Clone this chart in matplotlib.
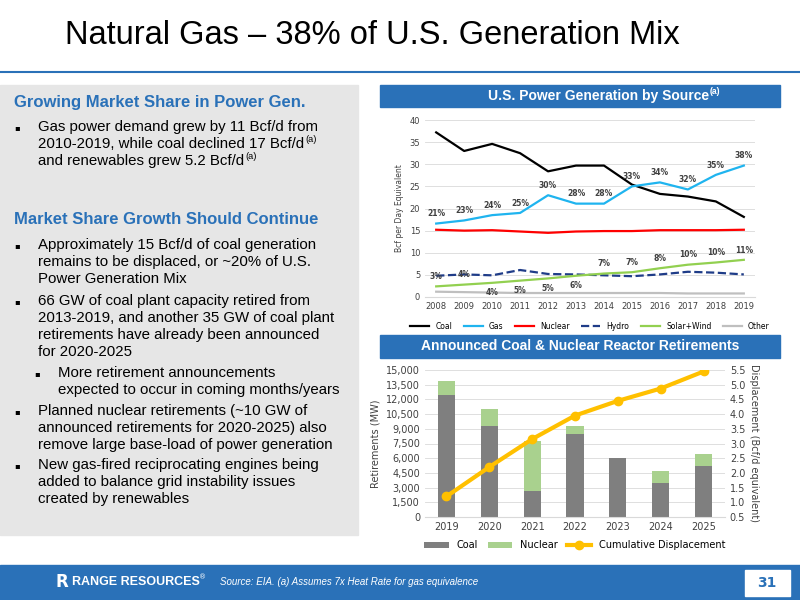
import numpy as np
import matplotlib.pyplot as plt
from matplotlib.patches import Rectangle
from matplotlib.lines import Line2D

years = [2008, 2009, 2010, 2011, 2012, 2013, 2014, 2015, 2016, 2017, 2018, 2019]
coal = [37.2, 33.0, 34.6, 32.5, 28.4, 29.7, 29.7, 25.4, 23.3, 22.7, 21.6, 18.1]
gas = [16.6, 17.3, 18.5, 19.0, 23.0, 21.1, 21.1, 25.0, 25.9, 24.3, 27.6, 29.7]
nuclear = [15.2, 15.0, 15.1, 14.8, 14.5, 14.8, 14.9, 14.9, 15.1, 15.1, 15.1, 15.2]
hydro = [4.8, 5.1, 4.9, 6.1, 5.2, 5.1, 4.9, 4.7, 5.1, 5.7, 5.5, 5.1]
solar_wind = [2.4, 2.8, 3.2, 3.7, 4.2, 4.8, 5.3, 5.6, 6.5, 7.3, 7.8, 8.4]
other = [1.2, 1.1, 1.0, 0.9, 0.9, 0.9, 0.9, 0.9, 0.9, 0.8, 0.8, 0.8]
gas_pct = [21, 23, 24, 25, 30, 28, 28, 33, 34, 32, 35, 38]
ren_pct = [3, 4, 4, 5, 5, 6, 7, 7, 8, 10, 10, 11]
ren_above = [True, True, False, False, False, False, True, True, True, True, True, True]

ret_years = ['2019', '2020', '2021', '2022', '2023', '2024', '2025']
ret_coal = [12500, 9300, 2700, 8500, 6000, 3500, 5250]
ret_nuclear = [1400, 1700, 5100, 800, 0, 1200, 1150]
cum_disp = [1.2, 2.2, 3.15, 3.95, 4.45, 4.87, 5.45]

W, H = 800, 600
blue = '#2a71b8'
fig = plt.figure(figsize=(8, 6), dpi=100)
renderer = fig.canvas.get_renderer()

def fx(x): return x / W
def fy(y): return 1 - y / H

def rect(x0, y0, x1, y1, color):
    fig.patches.append(Rectangle((fx(x0), fy(y1)), fx(x1 - x0), (y1 - y0) / H,
                                 transform=fig.transFigure, color=color, zorder=0))

def with_sup(x, y, txt, sup, size, **kw):
    # line of text followed by a small raised superscript
    t = fig.text(fx(x), fy(y), txt, fontsize=size, va='baseline', family='Liberation Sans', **kw)
    bb = t.get_window_extent(renderer)
    fig.text(bb.x1 / W + 0.001, fy(y - size * 0.55), sup, fontsize=size * 0.62,
             va='baseline', family='Liberation Sans', **kw)

# title
fig.text(fx(65), fy(36), 'Natural Gas \u2013 38% of U.S. Generation Mix', fontsize=23.5,
         va='center', family='Liberation Sans')
fig.add_artist(Line2D([fx(0), fx(800)], [fy(72), fy(72)], color=blue, lw=1.5,
                      transform=fig.transFigure))

# left panel
rect(0, 85, 358, 535, '#e6e6e6')
step = 17
bullets = [
    (38, 126, ['Gas power demand grew by 11 Bcf/d from',
               ('2010-2019, while coal declined 17 Bcf/d', '(a)'),
               ('and renewables grew 5.2 Bcf/d', '(a)')]),
    (38, 244, ['Approximately 15 Bcf/d of coal generation',
               'remains to be displaced, or ~20% of U.S.',
               'Power Generation Mix']),
    (38, 300, ['66 GW of coal plant capacity retired from',
               '2013-2019, and another 35 GW of coal plant',
               'retirements have already been announced',
               'for 2020-2025']),
    (58, 372, ['More retirement announcements',
               'expected to occur in coming months/years']),
    (38, 410, ['Planned nuclear retirements (~10 GW of',
               'announced retirements for 2020-2025) also',
               'remove large base-load of power generation']),
    (38, 464, ['New gas-fired reciprocating engines being',
               'added to balance grid instability issues',
               'created by renewables']),
]
for x, y, lines in bullets:
    fig.text(fx(x - 24), fy(y + 2), '\u25aa', fontsize=6, va='center', family='DejaVu Sans')
    for i, ln in enumerate(lines):
        yb = y + 5 + i * step
        if isinstance(ln, tuple):
            with_sup(x, yb, ln[0], ln[1], 10.8)
        else:
            fig.text(fx(x), fy(yb), ln, fontsize=10.8, va='baseline', family='Liberation Sans')
for y, txt in [(103, 'Growing Market Share in Power Gen.'), (220, 'Market Share Growth Should Continue')]:
    fig.text(fx(14), fy(y), txt, fontsize=12, color=blue, weight='bold', va='center',
             family='Liberation Sans')

# section headers
rect(380, 85, 780, 107, blue)
with_sup(488, 100, 'U.S. Power Generation by Source', '(a)', 10, color='white', weight='bold')
rect(380, 335, 780, 358, blue)
fig.text(fx(580), fy(346.5), 'Announced Coal & Nuclear Reactor Retirements', color='white',
         fontsize=10, weight='bold', ha='center', va='center', family='Liberation Sans')

# top chart
ax = fig.add_axes([fx(425), fy(297), fx(330), (297 - 120) / H])
ax.plot(years, coal, color='black', lw=1.6, label='Coal')
ax.plot(years, gas, color='#1fb4ef', lw=1.6, label='Gas')
ax.plot(years, nuclear, color='#ff0000', lw=1.6, label='Nuclear')
ax.plot(years, hydro, color='#1f3c88', lw=1.6, ls='--', label='Hydro')
ax.plot(years, solar_wind, color='#92d050', lw=1.6, label='Solar+Wind')
ax.plot(years, other, color='#bfbfbf', lw=1.6, label='Other')
for x, v, p in zip(years, gas, gas_pct):
    ax.text(x, v + 1.2, f'{p}%', fontsize=5.5, ha='center', va='bottom', color='#404040', weight='bold')
for x, v, p, up in zip(years, solar_wind, ren_pct, ren_above):
    ax.text(x, v + 1.2 if up else v - 1.2, f'{p}%', fontsize=5.5, ha='center',
            va='bottom' if up else 'top', color='#404040', weight='bold')
ax.set_ylim(0, 40)
ax.set_yticks(range(0, 41, 5))
ax.set_xlim(2007.6, 2019.4)
ax.set_xticks(years)
ax.tick_params(labelsize=6, length=0, colors='#404040')
ax.grid(axis='y', color='#d9d9d9', lw=0.6)
ax.set_axisbelow(True)
for s in ['top', 'right', 'left']:
    ax.spines[s].set_visible(False)
ax.spines['bottom'].set_color('#d9d9d9')
ax.set_ylabel('Bcf per Day Equivalent', fontsize=5.5, color='#404040')
ax.legend(loc='upper center', bbox_to_anchor=(0.5, -0.1), ncol=6, frameon=False, fontsize=5.5,
          handlelength=2.5, columnspacing=1.5)

# bottom chart
ax2 = fig.add_axes([fx(425), fy(517), fx(300), (517 - 370) / H])
xi = np.arange(len(ret_years))
ax2.bar(xi, ret_coal, width=0.4, color='#7f7f7f', label='Coal')
ax2.bar(xi, ret_nuclear, width=0.4, bottom=ret_coal, color='#a9d18e', label='Nuclear')
ax2.set_ylim(0, 15000)
ax2.set_yticks(range(0, 15001, 1500))
ax2.set_yticklabels([f'{v:,}' for v in range(0, 15001, 1500)])
ax2.set_xticks(xi)
ax2.set_xticklabels(ret_years)
ax2.set_xlim(-0.5, 6.5)
ax2.grid(axis='y', color='#d9d9d9', lw=0.6)
ax2.set_axisbelow(True)
ax2.tick_params(labelsize=7, length=0, colors='#404040')
for s in ['top', 'right', 'left']:
    ax2.spines[s].set_visible(False)
ax2.spines['bottom'].set_color('#d9d9d9')
ax2.set_ylabel('Retirements (MW)', fontsize=7, color='#404040')
ax3 = ax2.twinx()
ax3.plot(xi, cum_disp, color='#ffc000', lw=3, marker='o', ms=6, label='Cumulative Displacement')
ax3.set_ylim(0.5, 5.5)
ax3.set_yticks(np.arange(0.5, 5.51, 0.5))
ax3.set_yticklabels([f'{v:.1f}' for v in np.arange(0.5, 5.51, 0.5)])
ax3.tick_params(labelsize=7, length=0, colors='#404040')
for s in ax3.spines.values():
    s.set_visible(False)
ax3.set_ylabel('Displacement (Bcf/d equivalent)', fontsize=7, color='#404040', rotation=270, labelpad=10)
h1, l1 = ax2.get_legend_handles_labels()
h2, l2 = ax3.get_legend_handles_labels()
ax2.legend(h1 + h2, l1 + l2, loc='upper center', bbox_to_anchor=(0.5, -0.1), ncol=3,
           frameon=False, fontsize=7, handlelength=2.5, columnspacing=1.0)

# footer
rect(0, 565, 800, 600, blue)
fig.text(fx(55), fy(582), 'R', fontsize=12, color='white', weight='bold', va='center')
fig.text(fx(72), fy(582), 'RANGE RESOURCES', fontsize=9, color='white',
         weight='bold', va='center', family='Liberation Sans')
fig.text(fx(199), fy(577), '\u00ae', fontsize=5, color='white', va='center')
fig.text(fx(220), fy(582), 'Source: EIA. (a) Assumes 7x Heat Rate for gas equivalence', fontsize=7,
         color='white', style='italic', va='center', family='Liberation Sans')
rect(745, 570, 790, 596, 'white')
fig.text(fx(767), fy(583), '31', fontsize=10, color=blue, weight='bold', ha='center', va='center')

fig.savefig('out.png', dpi=100)
